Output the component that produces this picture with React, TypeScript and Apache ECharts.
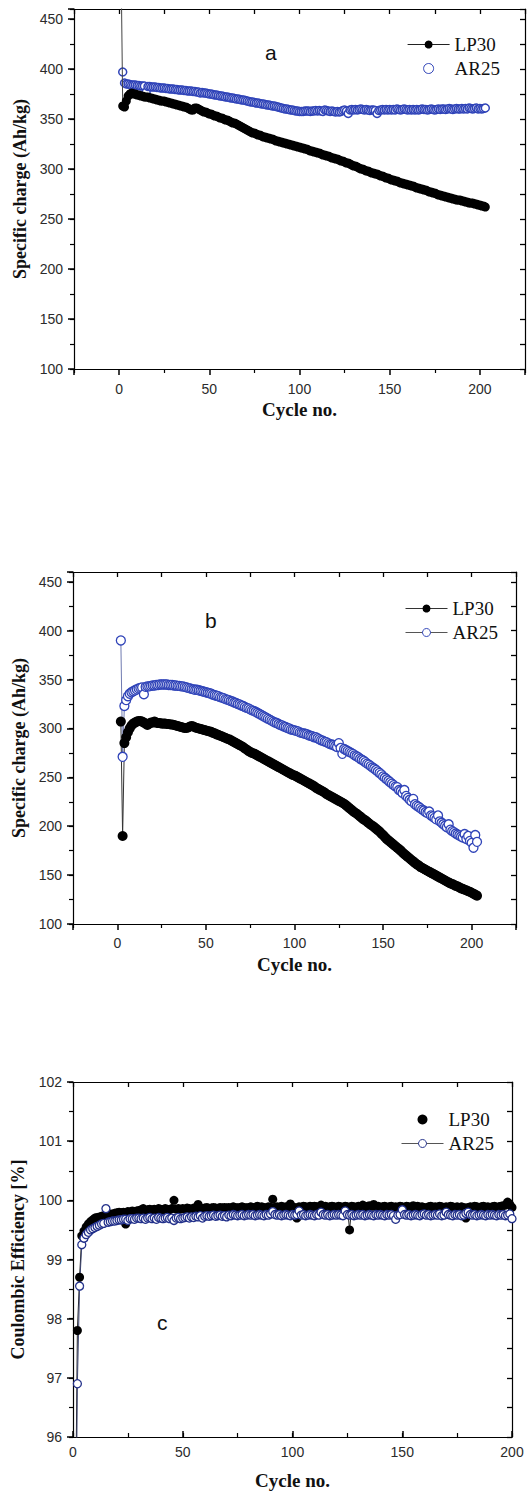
import React, { useEffect, useRef } from "react";
import * as echarts from "echarts";

// ---------- data ----------
const CYCLE_START_A = 1;
const CYCLE_START_B = 2;
const CYCLE_START_C = 1;

// panel a: specific charge (Ah/kg), cycles 1..203
const A_LP30 = [
  520, 363, 362, 368, 373, 375, 376, 375, 375, 374,
  374, 373, 373, 372, 372, 372, 371, 371, 370, 370,
  369, 369, 368, 368, 368, 367, 367, 366, 366, 365,
  365, 364, 364, 363, 363, 362, 362, 361, 360, 359,
  359, 361, 361, 360, 359, 358, 357, 357, 356, 355,
  355, 354, 353, 353, 352, 351, 351, 350, 349, 349,
  348, 347, 346, 346, 345, 344, 343, 342, 341, 340,
  339, 338, 337, 336, 336, 335, 334, 334, 333, 332,
  332, 331, 331, 330, 330, 329, 328, 328, 327, 327,
  326, 326, 325, 325, 324, 324, 323, 323, 322, 322,
  321, 321, 320, 320, 319, 318, 318, 317, 317, 316,
  316, 315, 314, 314, 313, 313, 312, 311, 311, 310,
  310, 309, 308, 308, 307, 306, 306, 305, 304, 303,
  303, 302, 301, 300, 300, 299, 298, 298, 297, 296,
  296, 295, 295, 294, 293, 293, 292, 291, 291, 290,
  289, 289, 288, 288, 287, 286, 286, 285, 285, 284,
  284, 283, 283, 282, 281, 281, 280, 280, 279, 279,
  278, 277, 277, 276, 276, 275, 274, 274, 273, 273,
  272, 272, 271, 271, 270, 270, 269, 269, 269, 268,
  268, 267, 267, 266, 266, 266, 265, 265, 264, 264,
  263, 263, 262,
];
const A_AR25 = [
  null, 397, 386, 385, 385, 384.5, 384, 384, 384, 383.5,
  383.5, 383, 383, 383, 377, 382.5, 382.5, 382, 382, 382,
  381.5, 381.5, 381, 381, 381, 380.5, 380.5, 380, 380, 380,
  379.5, 379.5, 379, 379, 379, 378.5, 378.5, 378, 378, 378,
  377.5, 377.5, 377, 377, 376, 376.5, 376, 376, 375.5, 375,
  375, 374.5, 374, 374, 373.5, 373, 373, 372.5, 372, 372,
  371.5, 371, 371, 370.5, 370, 370, 369.5, 369, 369, 368.5,
  368, 367.5, 367, 367, 366.5, 366, 366, 365.5, 365, 365,
  364.5, 364, 364, 363.5, 363, 363, 362.5, 362, 361.5, 361,
  360.5, 360, 360, 359.5, 359, 359, 358.5, 358, 358, 357.5,
  357.5, 357.5, 358, 358, 358, 357.5, 358, 358, 358.5, 358,
  358.5, 358, 357.5, 359, 358.5, 358, 357.5, 358, 357.5, 357,
  357.5, 357, 357.5, 358.5, 359, 358, 355.5, 359, 359.5, 359,
  359.5, 359, 359.5, 360, 359.5, 359, 359.5, 359, 358.5, 359,
  359, 358.5, 355.5, 358.5, 359, 359.5, 359, 359.5, 359, 359.5,
  359, 359.5, 359, 360, 359.5, 359, 359.5, 360, 359.5, 359,
  359.5, 359, 359.5, 359, 359.5, 359, 359.5, 360, 359.5, 359.5,
  359, 359.5, 360, 359.5, 359, 359.5, 360, 359.5, 360, 360,
  359.5, 360, 360.5, 360, 359.5, 360, 360.5, 360, 360, 360.5,
  360, 360.5, 360, 361, 360.5, 360, 360.5, 361, 360, 360.5,
  360, 360.5, 361,
];

// panel b: specific charge (Ah/kg), cycles 2..203
const B_LP30 = [
  307, 190, 285, 291, 296, 300, 303, 305, 306,
  307, 307.5, 307.5, 307, 306, 305, 303.5, 305, 306, 306,
  307, 306, 305.5, 305.5, 305, 305, 305, 304.5, 304.5, 304,
  304, 303.5, 303, 302.5, 302, 301.5, 301, 300.5, 300.5, 301,
  302, 302.5, 302, 301, 300.5, 300, 299.5, 299, 298.5, 298,
  297.5, 297, 296.5, 295.5, 295, 294, 293.5, 292.5, 292, 291,
  290.5, 289.5, 289, 288, 287, 286, 285, 284, 283, 282,
  281, 279.5, 278.5, 277, 276, 275, 274.5, 273.5, 272.5, 271.5,
  270.5, 269.5, 268.5, 267.5, 266.5, 265.5, 264.5, 263.5, 262.5, 261.5,
  260.5, 259.5, 258.5, 257.5, 256.5, 255.5, 254.5, 253.5, 252.5, 252,
  251, 250, 249, 248, 247, 246, 245, 244, 243, 242,
  241, 239.5, 238.5, 237.5, 236.5, 235.5, 234.5, 233, 232, 231,
  230, 229, 228, 227, 226, 225, 224, 223, 221.5, 220,
  218.5, 217, 215.5, 214, 213, 211.5, 210, 208.5, 207, 206,
  204.5, 203, 201.5, 200.5, 199, 197.5, 196, 194.5, 192.5, 191,
  189, 187, 185.5, 184, 182.5, 181, 179.5, 178, 176.5, 175,
  173, 171.5, 170, 168.5, 167, 165.5, 164, 162.5, 161, 160,
  158.5, 157.5, 156.5, 155.5, 154.5, 153.5, 152.5, 151.5, 150.5, 149.5,
  148.5, 147.5, 146.5, 145.5, 144.5, 143.5, 142.5, 141.5, 141, 140,
  139, 138.5, 137.5, 136.5, 136, 135, 134.5, 133.5, 133, 132,
  131, 130, 129,
];
const B_AR25 = [
  390, 271, 323, 329, 333, 335.5, 337, 338, 339,
  340, 341, 341.5, 342, 335, 342.5, 343, 343, 343.5, 344,
  344, 344.5, 344.5, 345, 345, 345, 345, 345, 344.5, 344.5,
  344.5, 344, 344, 343.5, 343.5, 343, 343, 342.5, 342, 341.5,
  341, 340.5, 340, 339.5, 339.5, 339, 338.5, 338, 337.5, 337,
  336.5, 336, 335.5, 334.5, 334, 333.5, 333, 332, 331.5, 331,
  330, 329.5, 329, 328, 327.5, 326.5, 326, 325, 324.5, 323.5,
  323, 322, 321, 320.5, 319.5, 318.5, 318, 317, 316, 315,
  314, 313, 312, 311, 310, 309, 308, 307, 306, 305.5,
  304.5, 303.5, 303, 302, 301.5, 300.5, 300, 299, 298.5, 298,
  297.5, 297, 296, 295.5, 295, 294.5, 294, 293, 292.5, 292,
  291, 291, 290, 289, 288, 287.5, 286.5, 286, 285, 284,
  283.5, 283, 282, 281, 285, 280, 274, 279, 278, 277,
  276, 275, 274, 272.5, 271.5, 270.5, 269, 268, 267, 265.5,
  264, 263, 261.5, 260, 259, 257.5, 256, 254.5, 253, 251,
  249.5, 248, 246.5, 245, 243.5, 242, 240.5, 240, 237, 236,
  234, 237, 231, 229, 227, 225.5, 228, 222.5, 221, 220,
  218.5, 217, 216, 214.5, 213.5, 215, 211, 210, 208.5, 207,
  211, 205, 203.5, 202, 200.5, 199, 202, 196.5, 195, 194,
  192.5, 191.5, 190.5, 189.5, 188.5, 192, 187, 190, 185, 183,
  178, 191, 184,
];

// panel c: coulombic efficiency (%), cycles 1..200
const C_LP30 = [
  94, 97.8, 98.7, 99.4, 99.48, 99.55, 99.6, 99.64, 99.67, 99.7,
  99.71, 99.72, 99.73, 99.74, 99.75, 99.76, 99.77, 99.77, 99.78, 99.79,
  99.8, 99.79, 99.8, 99.6, 99.81, 99.8, 99.82, 99.81, 99.82, 99.83,
  99.84, 99.86, 99.83, 99.84, 99.85, 99.83, 99.85, 99.84, 99.86, 99.85,
  99.84, 99.86, 99.85, 99.84, 99.86, 100.0, 99.85, 99.86, 99.85, 99.86,
  99.85, 99.87, 99.86, 99.85, 99.87, 99.86, 99.93, 99.87, 99.86, 99.87,
  99.88, 99.86, 99.87, 99.88, 99.87, 99.86, 99.88, 99.87, 99.88, 99.87,
  99.88, 99.87, 99.89, 99.88, 99.87, 99.88, 99.89, 99.88, 99.87, 99.88,
  99.89, 99.88, 99.87, 99.9, 99.88, 99.89, 99.88, 99.87, 99.89, 99.88,
  100.02, 99.88, 99.89, 99.88, 99.9, 99.88, 99.89, 99.88, 99.94, 99.89,
  99.88, 99.7, 99.89, 99.88, 99.9, 99.89, 99.88, 99.9, 99.89, 99.9,
  99.89, 99.88, 99.92, 99.89, 99.9, 99.88, 99.89, 99.9, 99.89, 99.88,
  99.9, 99.89, 99.88, 99.9, 99.89, 99.5, 99.9, 99.89, 99.88, 99.9,
  99.89, 99.92, 99.9, 99.89, 99.91, 99.9, 99.93, 99.89, 99.9, 99.88,
  99.89, 99.9, 99.88, 99.89, 99.9, 99.88, 99.89, 99.87, 99.9, 99.89,
  99.88, 99.9, 99.89, 99.88, 99.91, 99.89, 99.9, 99.88, 99.89, 99.88,
  99.87, 99.89, 99.9, 99.88, 99.89, 99.88, 99.9, 99.89, 99.88, 99.89,
  99.88, 99.9, 99.89, 99.88, 99.89, 99.87, 99.89, 99.88, 99.7, 99.88,
  99.89, 99.88, 99.9, 99.89, 99.88, 99.89, 99.9, 99.88, 99.89, 99.88,
  99.89, 99.9, 99.88, 99.89, 99.9, 99.91, 99.92, 99.97, 99.93, 99.88,
];
const C_AR25 = [
  93, 96.9, 98.55, 99.25, 99.36, 99.42, 99.46, 99.5, 99.52, 99.54,
  99.56, 99.58, 99.6, 99.61, 99.86, 99.63, 99.64, 99.65, 99.65, 99.66,
  99.67, 99.67, 99.68, 99.68, 99.66, 99.69, 99.69, 99.68, 99.7, 99.7,
  99.69, 99.7, 99.68, 99.7, 99.71, 99.69, 99.7, 99.68, 99.71, 99.7,
  99.69, 99.7, 99.71, 99.69, 99.7, 99.66, 99.7, 99.71, 99.69, 99.7,
  99.71, 99.72, 99.7, 99.72, 99.71, 99.73, 99.72, 99.74, 99.7, 99.73,
  99.74, 99.73, 99.74, 99.75, 99.73, 99.74, 99.75, 99.73, 99.74, 99.72,
  99.75, 99.74, 99.76, 99.75, 99.74, 99.75, 99.76, 99.74, 99.75, 99.76,
  99.75, 99.76, 99.74, 99.75, 99.76, 99.75, 99.74, 99.76, 99.75, 99.77,
  99.81, 99.76, 99.75, 99.76, 99.74, 99.75, 99.76, 99.75, 99.74, 99.76,
  99.75, 99.76, 99.82, 99.75, 99.76, 99.74, 99.75, 99.76, 99.75, 99.74,
  99.76, 99.75, 99.8, 99.76, 99.75, 99.76, 99.74, 99.75, 99.76, 99.75,
  99.76, 99.75, 99.74, 99.82, 99.76, 99.75, 99.76, 99.74, 99.75, 99.76,
  99.75, 99.76, 99.74, 99.75, 99.76, 99.75, 99.74, 99.76, 99.75, 99.76,
  99.75, 99.74, 99.76, 99.75, 99.76, 99.74, 99.68, 99.75, 99.76, 99.84,
  99.76, 99.75, 99.76, 99.74, 99.75, 99.76, 99.75, 99.74, 99.76, 99.77,
  99.75, 99.76, 99.74, 99.75, 99.76, 99.75, 99.77, 99.74, 99.75, 99.8,
  99.76, 99.75, 99.74, 99.76, 99.75, 99.76, 99.74, 99.75, 99.78, 99.8,
  99.76, 99.75, 99.76, 99.74, 99.75, 99.76, 99.75, 99.74, 99.76, 99.75,
  99.76, 99.75, 99.74, 99.76, 99.75, 99.76, 99.74, 99.75, 99.77, 99.69,
];

// axis ranges and tick steps
const X_RANGE_AB = [-25, 225];
const X_RANGE_C = [0, 200];
const Y_RANGE_AB = [100, 460];
const Y_RANGE_C = [96, 102];
const X_LABEL_STEP = 50;
const Y_LABEL_STEP_AB = 50;
const Y_LABEL_STEP_C = 1;

// ---------- styles ----------
const AX = "#000";
const BLUE = "#2f43b8";
const NAVY = "#22308a";
const LABEL = { fontFamily: "Liberation Sans", fontSize: 14, color: "#2b2b2b" };
const NAME = { fontFamily: "Liberation Serif", fontWeight: "bold", fontSize: 19, color: "#111" };
const YNAME = { ...NAME, fontSize: 18 };
const LEGEND_TEXT = { fontFamily: "Liberation Serif", fontSize: 19, lineHeight: 19, color: "#111" };

function toPairs(vals: (number | null)[], start: number) {
  return vals.map((v, i) => [start + i, v]);
}

function onStep(step: number) {
  return (v: number) => {
    const r = Math.abs(v / step - Math.round(v / step));
    return r < 1e-6 ? String(v) : "";
  };
}

const TICK = (len: number, inside: boolean, w: number) => ({
  show: true, inside, length: len, lineStyle: { color: AX, width: w, opacity: 1 },
});

function xAxes(g: number, p: any) {
  const [min, max] = p.range;
  return [
    {
      gridIndex: g, type: "value", position: "bottom", min, max, splitNumber: p.splitNumber,
      interval: p.mainInterval,
      name: "Cycle no.", nameLocation: "middle", nameGap: p.nameGap, nameTextStyle: NAME,
      axisLine: { show: true, onZero: false, lineStyle: { color: AX, width: 1.2 } },
      axisTick: TICK(6, p.inside, 1.5),
      axisLabel: { show: true, margin: p.labelMargin, formatter: onStep(X_LABEL_STEP), ...LABEL },
      splitLine: { show: false },
    },
    {
      gridIndex: g, type: "value", position: "bottom", min, max, interval: p.minorInterval,
      axisLine: { show: false, onZero: false },
      axisTick: TICK(4, p.inside, 1.2),
      axisLabel: { show: false }, splitLine: { show: false },
    },
    {
      gridIndex: g, type: "value", position: "top", min, max, interval: 25,
      axisLine: { show: true, onZero: false, lineStyle: { color: AX, width: 1.2 } },
      axisTick: TICK(5, true, 1.3),
      axisLabel: { show: false }, splitLine: { show: false },
    },
  ];
}

function yAxes(g: number, p: any) {
  const [min, max] = p.range;
  return [
    {
      gridIndex: g, type: "value", position: "left", min, max, interval: p.step,
      name: p.name, nameLocation: "middle", nameGap: p.nameGap, nameTextStyle: YNAME,
      axisLine: { show: true, onZero: false, lineStyle: { color: AX, width: 1.2 } },
      axisTick: TICK(6, false, 1.5),
      axisLabel: { show: true, margin: 11, formatter: onStep(p.step), ...LABEL },
      splitLine: { show: false },
    },
    {
      gridIndex: g, type: "value", position: "left", min, max, interval: p.step / 2,
      axisLine: { show: false, onZero: false },
      axisTick: TICK(4, false, 1.2),
      axisLabel: { show: false }, splitLine: { show: false },
    },
    {
      gridIndex: g, type: "value", position: "right", min, max, interval: p.step / 2,
      axisLine: { show: true, onZero: false, lineStyle: { color: AX, width: 1.2 } },
      axisTick: TICK(5, true, 1.3),
      axisLabel: { show: false }, splitLine: { show: false },
    },
  ];
}

function buildOption() {
  const grids = [
    { left: 74, top: 9, width: 451, height: 360 },
    { left: 73, top: 572, width: 443, height: 352 },
    { left: 73, top: 1082, width: 439, height: 355 },
  ];
  const xAxis = [
    ...xAxes(0, { range: X_RANGE_AB, splitNumber: 5, minorInterval: 50, nameGap: 31, labelMargin: 13, inside: false }),
    ...xAxes(1, { range: X_RANGE_AB, splitNumber: 5, minorInterval: 50, nameGap: 31, labelMargin: 12, inside: false }),
    ...xAxes(2, { range: X_RANGE_C, mainInterval: 50, minorInterval: 25, nameGap: 34, labelMargin: 8, inside: true }),
  ];
  const yAxis = [
    ...yAxes(0, { range: Y_RANGE_AB, step: Y_LABEL_STEP_AB, name: "Specific charge (Ah/kg)", nameGap: 45 }),
    ...yAxes(1, { range: Y_RANGE_AB, step: Y_LABEL_STEP_AB, name: "Specific charge (Ah/kg)", nameGap: 44 }),
    ...yAxes(2, { range: Y_RANGE_C, step: Y_LABEL_STEP_C, name: "Coulombic Efficiency [%]", nameGap: 46 }),
  ];

  const series = [
    {
      name: "a:LP30", type: "line", xAxisIndex: 0, yAxisIndex: 0,
      data: toPairs(A_LP30, CYCLE_START_A), symbol: "circle", symbolSize: 9,
      itemStyle: { color: "#000" }, lineStyle: { color: "#444", width: 1 },
    },
    {
      name: "a:AR25", type: "scatter", xAxisIndex: 0, yAxisIndex: 0,
      data: toPairs(A_AR25, CYCLE_START_A), symbol: "circle", symbolSize: 8,
      itemStyle: { color: "#fff", borderColor: BLUE, borderWidth: 1.5, opacity: 1 },
    },
    {
      name: "b:LP30", type: "line", xAxisIndex: 3, yAxisIndex: 3,
      data: toPairs(B_LP30, CYCLE_START_B), symbol: "circle", symbolSize: 10,
      itemStyle: { color: "#000" }, lineStyle: { color: "#333", width: 1 },
    },
    {
      name: "b:AR25", type: "line", xAxisIndex: 3, yAxisIndex: 3,
      data: toPairs(B_AR25, CYCLE_START_B), symbol: "circle", symbolSize: 9,
      itemStyle: { color: "#fff", borderColor: BLUE, borderWidth: 1.3 }, lineStyle: { color: "#6f7ab0", width: 1 },
    },
    {
      name: "c:LP30", type: "line", xAxisIndex: 6, yAxisIndex: 6,
      data: toPairs(C_LP30, CYCLE_START_C), symbol: "circle", symbolSize: 9,
      itemStyle: { color: "#000" }, lineStyle: { color: "#222", width: 1 },
    },
    {
      name: "c:AR25", type: "line", xAxisIndex: 6, yAxisIndex: 6,
      data: toPairs(C_AR25, CYCLE_START_C), symbol: "circle", symbolSize: 8,
      itemStyle: { color: "#fff", borderColor: NAVY, borderWidth: 1.3 }, lineStyle: { color: "#3c4470", width: 1 },
    },
  ];

  const legendBase = {
    orient: "vertical", itemWidth: 42, itemHeight: 10, itemGap: 5,
    textStyle: LEGEND_TEXT, formatter: (n: string) => n.slice(2), selectedMode: false,
  };
  const legend = [
    {
      ...legendBase, left: 402, top: 30,
      data: [
        { name: "a:LP30", textStyle: LEGEND_TEXT, itemStyle: { color: "#000", borderWidth: 0 }, lineStyle: { color: "#222", width: 1.2 } },
        { name: "a:AR25", textStyle: LEGEND_TEXT, icon: "circle", itemStyle: { color: "#fff", borderColor: BLUE, borderWidth: 1 } },
      ],
    },
    {
      ...legendBase, left: 400, top: 594,
      data: [
        { name: "b:LP30", textStyle: LEGEND_TEXT, itemStyle: { color: "#000", borderWidth: 0 }, lineStyle: { color: "#333", width: 1 } },
        { name: "b:AR25", textStyle: LEGEND_TEXT, itemStyle: { color: "#fff", borderColor: BLUE, borderWidth: 1 }, lineStyle: { color: "#555", width: 1 } },
      ],
    },
    {
      ...legendBase, left: 396, top: 1105,
      data: [
        { name: "c:LP30", textStyle: LEGEND_TEXT, icon: "circle", itemStyle: { color: "#000", borderWidth: 0 } },
        { name: "c:AR25", textStyle: LEGEND_TEXT, itemStyle: { color: "#fff", borderColor: NAVY, borderWidth: 1 }, lineStyle: { color: "#555", width: 1 } },
      ],
    },
  ];

  const panelText = { fontSize: 21, fontFamily: "Liberation Sans", fill: "#111" };
  const graphic = [
    { type: "text", left: 265, top: 42, style: { text: "a", ...panelText } },
    { type: "text", left: 205, top: 610, style: { text: "b", ...panelText } },
    { type: "text", left: 157, top: 1312, style: { text: "c", ...panelText } },
  ];

  return {
    animation: false,
    backgroundColor: "#fff",
    grid: grids,
    xAxis,
    yAxis,
    legend,
    graphic,
    series,
  };
}

export default function App() {
  const ref = useRef<HTMLDivElement>(null);
  useEffect(() => {
    document.body.style.margin = "0";
    if (!ref.current) return;
    const chart = echarts.init(ref.current, undefined, { renderer: "svg" });
    chart.setOption(buildOption() as any);
    return () => chart.dispose();
  }, []);
  return (
    <div
      ref={ref}
      style={{ position: "absolute", left: 0, top: 0, width: 530, height: 1491, background: "#fff" }}
    />
  );
}
